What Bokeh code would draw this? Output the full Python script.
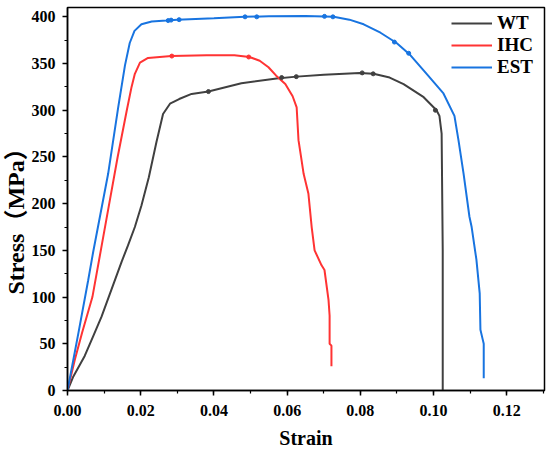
from bokeh.plotting import figure
from bokeh.models import (SingleIntervalTicker, NumeralTickFormatter, Range1d, Legend,
                          LegendItem, Title)
from bokeh.embed import file_html
from bokeh.resources import INLINE

# ---- data ----
wt_x = [0, 0.0016, 0.0047, 0.0070, 0.0093, 0.0120, 0.0148, 0.0165, 0.0184, 0.0202, 0.0222,
        0.0243, 0.0261, 0.0280, 0.0305, 0.0339, 0.0385, 0.0475, 0.0571, 0.0626, 0.0700,
        0.0798, 0.0836, 0.0880, 0.0918, 0.0973, 0.1008, 0.1016, 0.1022, 0.1025, 0.1025]
wt_y = [0, 15, 37, 58, 79, 108, 138, 155, 175, 198, 228,
        266, 296, 307, 312, 317.5, 320, 329, 334, 336, 338,
        340, 339, 335, 328, 314, 300, 294, 275, 150, 0]

ihc_x = [0, 0.0020, 0.0040, 0.0068, 0.0091, 0.0114, 0.0137, 0.0162, 0.0175, 0.0184, 0.0198,
         0.0220, 0.0284, 0.0380, 0.0456, 0.0497, 0.0525, 0.0549, 0.0570, 0.0595,
         0.0615, 0.0626, 0.0631, 0.0638, 0.0645, 0.0658, 0.0667, 0.0675, 0.0694, 0.0702,
         0.0713, 0.0716, 0.0716, 0.0721, 0.0721]
ihc_y = [0, 33, 62, 100, 150, 200, 250, 300, 325, 339, 351,
         356, 358, 359, 359, 357, 353, 346, 337, 328,
         315, 303, 268, 250, 232, 211, 175, 150, 134, 129,
         97, 80, 50, 48, 26]

est_x = [0, 0.0030, 0.00565, 0.0070, 0.0111, 0.01385, 0.0157, 0.0170, 0.0183, 0.0202, 0.0230,
         0.0270, 0.0300, 0.0400, 0.0484, 0.0550, 0.0650, 0.0727, 0.0770, 0.0809, 0.0855,
         0.0899, 0.0934, 0.0981, 0.1027, 0.1057, 0.1068, 0.1082, 0.1098, 0.1104, 0.1117,
         0.1126, 0.1128, 0.1134, 0.1137, 0.1137]
est_y = [0, 62, 118, 148, 232, 303, 348, 372, 385, 392, 395,
         396, 397, 398.5, 400, 400.5, 401, 400, 397, 392, 383,
         372, 360, 339, 318, 294, 268, 232, 186, 175, 140,
         104, 65, 55, 50, 13]

# small data-point marks visible on the curves
wt_mx = [0.0385, 0.0585, 0.0625, 0.0805, 0.0835, 0.1005]
wt_my = [320, 335, 336, 340, 339, 300]
ihc_mx = [0.0285, 0.0495]
ihc_my = [358, 357]
est_mx = [0.0275, 0.0283, 0.0305, 0.0485, 0.0517, 0.0702, 0.0725, 0.0893, 0.0932]
est_my = [396, 396.5, 397, 400, 400, 400.5, 400, 373, 361]

series_names = ["WT", "IHC", "EST"]
colors = ["#404040", "#ff3333", "#1874e0"]
x_title = "Strain"
y_title = "Stress（MPa）"

FONT = "Liberation Serif"

p = figure(frame_width=477, frame_height=383, output_backend="svg", toolbar_location=None,
           x_range=Range1d(0, 0.1303), y_range=Range1d(0, 410),
           min_border_left=66, min_border_right=6, min_border_top=7, min_border_bottom=50)

r_wt = p.line(wt_x, wt_y, color=colors[0], line_width=2)
r_ihc = p.line(ihc_x, ihc_y, color=colors[1], line_width=2)
r_est = p.line(est_x, est_y, color=colors[2], line_width=2)
p.scatter(wt_mx, wt_my, size=4, color=colors[0])
p.scatter(ihc_mx, ihc_my, size=4, color=colors[1])
p.scatter(est_mx, est_my, size=4, color=colors[2])

legend = Legend(items=[LegendItem(label=series_names[0], renderers=[r_wt]),
                       LegendItem(label=series_names[1], renderers=[r_ihc]),
                       LegendItem(label=series_names[2], renderers=[r_est])],
                location=(384, 312))
legend.border_line_color = None
legend.background_fill_alpha = 0
legend.label_text_font = FONT
legend.label_text_font_style = "bold"
legend.label_text_font_size = "19px"
legend.label_text_color = "black"
legend.glyph_width = 41
legend.glyph_height = 20
legend.label_height = 20
legend.spacing = 0
legend.label_standoff = 5
legend.margin = 0
legend.padding = 2
p.add_layout(legend)

p.xgrid.visible = False
p.ygrid.visible = False
p.outline_line_color = "black"
p.outline_line_width = 1.5

p.xaxis.ticker = SingleIntervalTicker(interval=0.02, num_minor_ticks=2)
p.yaxis.ticker = SingleIntervalTicker(interval=50, num_minor_ticks=2)
p.xaxis.formatter = NumeralTickFormatter(format="0.00")

for ax in (p.xaxis, p.yaxis):
    ax.axis_line_color = "black"
    ax.axis_line_width = 1.5
    ax.major_tick_line_color = "black"
    ax.minor_tick_line_color = "black"
    ax.major_tick_line_width = 1.5
    ax.minor_tick_line_width = 1.2
    ax.major_tick_in = 0
    ax.major_tick_out = 5
    ax.minor_tick_in = 0
    ax.minor_tick_out = 3
    ax.major_label_text_font = FONT
    ax.major_label_text_font_style = "bold"
    ax.major_label_text_font_size = "16px"
    ax.major_label_text_color = "black"
    ax.axis_label_text_font = FONT
    ax.axis_label_text_font_style = "bold"
    ax.axis_label_text_font_size = "20px"
    ax.axis_label_text_color = "black"

p.xaxis.axis_label = x_title
p.xaxis.major_label_standoff = 9
p.xaxis.axis_label_standoff = 8
p.yaxis.major_label_standoff = 7

# y-axis title as a vertical title on the left side, placed along the axis
ytitle = Title(text=y_title, align="left", offset=96, standoff=0,
               text_font=FONT + ", Noto Sans CJK SC", text_font_style="bold",
               text_font_size="24px", text_color="black")
p.add_layout(ytitle, "left")

open("out.html", "w").write(file_html(p, INLINE))
